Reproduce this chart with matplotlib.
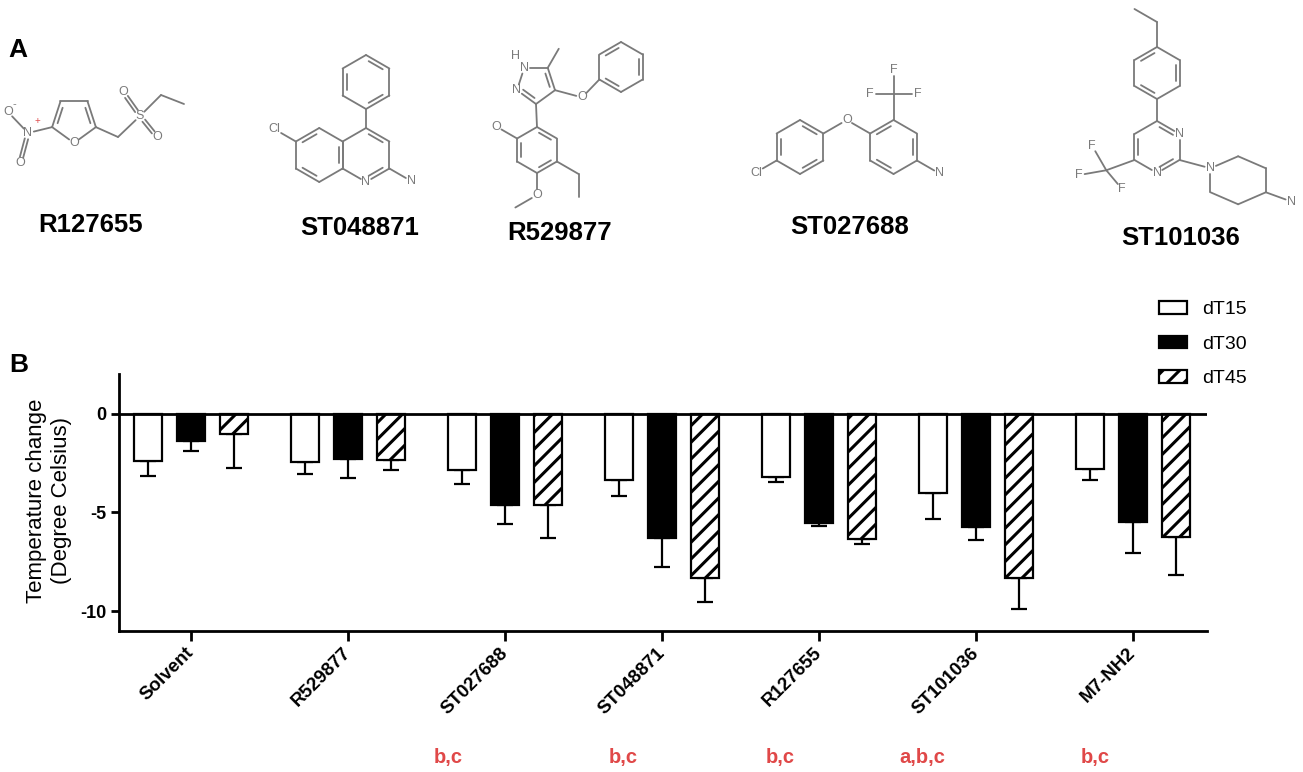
import numpy as np
import matplotlib
matplotlib.use('Agg')
import matplotlib.pyplot as plt
import matplotlib.transforms as mtransforms

plt.rcParams['font.family'] = ['Liberation Sans', 'DejaVu Sans']
plt.rcParams['hatch.linewidth'] = 2.2

# ---------------- data ----------------
categories = ['Solvent', 'R529877', 'ST027688', 'ST048871', 'R127655', 'ST101036', 'M7-NH2']
series_names = ['dT15', 'dT30', 'dT45']
dt15 = [-2.42, -2.44, -2.86, -3.37, -3.21, -4.03, -2.81]
dt15_err = [0.76, 0.64, 0.71, 0.78, 0.26, 1.30, 0.57]
dt30 = [-1.38, -2.30, -4.62, -6.29, -5.52, -5.75, -5.50]
dt30_err = [0.52, 0.96, 0.96, 1.46, 0.17, 0.65, 1.54]
dt45 = [-1.01, -2.33, -4.65, -8.34, -6.36, -8.34, -6.24]
dt45_err = [1.76, 0.53, 1.63, 1.19, 0.24, 1.56, 1.95]
yticks = [0, -5, -10]
sig_labels = ['', '', 'b,c', 'b,c', 'b,c', 'a,b,c', 'b,c']
sig_offsets = [0, 0, -0.36, -0.25, -0.25, -0.34, -0.24]
compound_names = ['R127655', 'ST048871', 'R529877', 'ST027688', 'ST101036']

W, H = 1303, 772
fig = plt.figure(figsize=(W / 100, H / 100), dpi=100)

# ---------------- panel A: structures (pixel space overlay) ----------------
sk = fig.add_axes([0, 0, 1, 1])
sk.set_xlim(0, W)
sk.set_ylim(H, 0)
sk.axis('off')

GRAY = '#7a7a7a'
LW = 1.3


def hexv(cx, cy, r, start=-90, n=6, sx=1.0, sy=1.0):
    a = np.deg2rad(start + 360.0 / n * np.arange(n))
    return [np.array([cx + sx * r * np.cos(t), cy + sy * r * np.sin(t)]) for t in a]


def ext(p, ang, L):
    t = np.deg2rad(ang)
    return np.array([p[0] + L * np.cos(t), p[1] + L * np.sin(t)])


def line(p, q, gp=0.0, gq=0.0):
    p = np.asarray(p, float)
    q = np.asarray(q, float)
    u = (q - p) / np.hypot(*(q - p))
    a = p + u * gp
    b = q - u * gq
    sk.plot([a[0], b[0]], [a[1], b[1]], color=GRAY, lw=LW, solid_capstyle='round')


def dbl(p, q, gp=0.0, gq=0.0, sep=3.4):
    p = np.asarray(p, float)
    q = np.asarray(q, float)
    u = (q - p) / np.hypot(*(q - p))
    nrm = np.array([-u[1], u[0]]) * sep / 2
    line(p + nrm, q + nrm, gp, gq)
    line(p - nrm, q - nrm, gp, gq)


def inner(p, q, c, off=4.0, trim=0.2):
    p = np.asarray(p, float)
    q = np.asarray(q, float)
    mid = (p + q) / 2
    v = c - mid
    v = v / np.hypot(*v)
    line(p + (q - p) * trim + v * off, q - (q - p) * trim + v * off)


def atom(p, s, size=9, color=GRAY):
    sk.text(p[0], p[1], s, ha='center', va='center', fontsize=size, color=color)


def ring(verts, doubles=(), labels=None, gap=6.0):
    labels = labels or {}
    c = np.mean(verts, axis=0)
    n = len(verts)
    for k in range(n):
        i, j = k, (k + 1) % n
        line(verts[i], verts[j], gap if i in labels else 0, gap if j in labels else 0)
        if k in doubles:
            inner(verts[i], verts[j], c)
    for i, s in labels.items():
        atom(verts[i], s)


# R127655
fur = hexv(74, 120, 23, start=90, n=5)
ring(fur, doubles=(1, 3), labels={0: 'O'})
Nn = np.array([28, 133])
line(fur[1], Nn, 0, 6)
atom(Nn, 'N')
atom((37, 121), '+', size=7, color='#e05050')
O1 = np.array([8, 112])
line(Nn, O1, 6, 6)
atom(O1, 'O')
atom((14, 104), '-', size=8)
O2 = np.array([20, 163])
dbl(Nn, O2, 6, 6)
atom(O2, 'O')
ch2 = np.array([118, 137])
line(fur[4], ch2)
S = np.array([140, 116])
line(ch2, S, 0, 6)
atom(S, 'S')
O3 = np.array([123, 92])
dbl(S, O3, 6, 6)
atom(O3, 'O')
O4 = np.array([157, 137])
dbl(S, O4, 6, 6)
atom(O4, 'O')
e1 = np.array([161, 95])
line(S, e1, 6, 0)
line(e1, (184, 104))

# ST048871
ph = hexv(366, 82, 27)
ring(ph, doubles=(0, 2, 4))
py = hexv(366, 155, 27)
bz = hexv(366 - 27 * np.sqrt(3), 155, 27)
line(ph[3], py[0])
ring(py, doubles=(0, 2), labels={3: 'N'})
ring(bz, doubles=(1, 3, 5))
Cl = ext(bz[5], 210, 25)
line(bz[5], Cl, 0, 8)
atom(Cl, 'Cl')
NH = ext(py[2], 30, 25)
line(py[2], NH, 0, 6)
atom(NH, 'N')

# R529877
pz = hexv(536, 84, 20, start=90, n=5)   # C3, N2, N1, C5, C4
ring(pz, doubles=(0, 3), labels={1: 'N', 2: 'N'})
atom(ext(pz[2], 235, 15), 'H')
line(pz[3], ext(pz[3], -60, 22))
Op = ext(pz[4], 15, 28)
line(pz[4], Op, 0, 6)
atom(Op, 'O')
ph3 = hexv(621, 67, 25, start=150)
line(Op, ph3[0], 6, 0)
ring(ph3, doubles=(1, 3, 5))
bz3 = hexv(537, 150, 23)
line(pz[0], bz3[0])
ring(bz3, doubles=(0, 2, 4))
Oh = ext(bz3[5], 210, 24)
line(bz3[5], Oh, 0, 6)
atom(Oh, 'O')
Om = ext(bz3[3], 90, 22)
line(bz3[3], Om, 0, 6)
atom(Om, 'O')
line(Om, ext(Om, 150, 25), 6, 0)
c1 = ext(bz3[2], 30, 25)
line(bz3[2], c1)
line(c1, ext(c1, 90, 23))

# ST027688
rA = hexv(800, 147, 27)
ring(rA, doubles=(0, 2, 4))
Cl2 = ext(rA[4], 150, 24)
line(rA[4], Cl2, 0, 8)
atom(Cl2, 'Cl')
Oe = ext(rA[1], -30, 27)
line(rA[1], Oe, 0, 6)
atom(Oe, 'O')
v5 = ext(Oe, 30, 27)
cB = ext(v5, 30, 27)
rB = hexv(cB[0], cB[1], 27)
line(Oe, rB[5], 6, 0)
ring(rB, doubles=(1, 3, 5))
cf = ext(rB[0], -90, 26)
line(rB[0], cf)
for ang in (-90, 180, 0):
    F = ext(cf, ang, 24)
    line(cf, F, 0, 6)
    atom(F, 'F')
N4 = ext(rB[2], 30, 26)
line(rB[2], N4, 0, 6)
atom(N4, 'N')

# ST101036
ph5 = hexv(1157, 73, 26)
ring(ph5, doubles=(1, 3, 5))
et1 = ext(ph5[0], -90, 25)
line(ph5[0], et1)
line(et1, ext(et1, 210, 26))
pm = hexv(1157, 147, 26)
line(ph5[3], pm[0])
ring(pm, doubles=(0, 2, 4), labels={1: 'N', 3: 'N'})
cf5 = ext(pm[4], 160, 30)
line(pm[4], cf5)
for ang, L in ((240, 28), (170, 28), (50, 24)):
    F = ext(cf5, ang, L)
    line(cf5, F, 0, 6)
    atom(F, 'F')
Np = ext(pm[2], 15, 32)
line(pm[2], Np, 0, 6)
ctr = np.array([Np[0] + 32 * np.cos(np.deg2rad(30)), Np[1] + 24 * 0.5])
pp = hexv(ctr[0], ctr[1], 1, sx=32, sy=24)
ring(pp, labels={5: 'N'})
Nt = ext(pp[2], 20, 27)
line(pp[2], Nt, 0, 6)
atom(Nt, 'N')

# compound names and panel letters
name_pos = [(91, 225), (360, 228), (560, 233), (850, 227), (1181, 238)]
for nm, (x, y) in zip(compound_names, name_pos):
    sk.text(x, y, nm, ha='center', va='center', fontsize=18.5, fontweight='bold')
sk.text(18, 50, 'A', ha='center', va='center', fontsize=19, fontweight='bold')
sk.text(19, 365, 'B', ha='center', va='center', fontsize=19, fontweight='bold')
sk.text(49, 501, 'Temperature change\n(Degree Celsius)', rotation=90, ha='center',
        va='center', multialignment='center', fontsize=16, linespacing=1.2)

# ---------------- panel B: bar chart ----------------
ax = fig.add_axes([119 / W, 1 - 631 / H, (1207 - 119) / W, (631 - 374) / H])
ax.patch.set_alpha(0)
x = np.arange(len(categories))
bw = 0.175
off = 0.274
series = [(dt15, dt15_err, 'white', ''), (dt30, dt30_err, 'black', ''), (dt45, dt45_err, 'white', '//')]
handles = []
for k, (vals, errs, fc, hatch) in enumerate(series):
    xs = x + (k - 1) * off
    b = ax.bar(xs, vals, width=bw, color=fc, edgecolor='black', linewidth=1.6,
               hatch=hatch, zorder=3, label=series_names[k])
    ax.errorbar(xs, vals, yerr=[errs, np.zeros(len(errs))], fmt='none', ecolor='black',
                elinewidth=1.6, capsize=5.5, capthick=1.6, zorder=2)
    handles.append(b)

ax.axhline(0, color='black', lw=2, zorder=4)
ax.set_xlim(-0.459, 6.471)
ax.set_ylim(-11, 2)
ax.set_yticks(yticks)
ax.set_yticklabels([str(t) for t in yticks], fontsize=13, fontweight='bold')
ax.set_xticks(x)
ax.set_xticklabels(categories, rotation=45, ha='right', va='center', rotation_mode='anchor',
                   fontsize=13.5, fontweight='bold')
for s in ('top', 'right'):
    ax.spines[s].set_visible(False)
for s in ('left', 'bottom'):
    ax.spines[s].set_linewidth(2)
ax.tick_params(axis='y', direction='out', length=6, width=2, pad=3)
ax.tick_params(axis='x', direction='out', length=7, width=2, pad=7)

ax.legend(handles, series_names, loc='upper left', bbox_to_anchor=(1159 / W, 1 - 301 / H),
          bbox_transform=fig.transFigure, frameon=False, handlelength=1.45, handleheight=0.62,
          handletextpad=0.75, labelspacing=0.9, borderpad=0, borderaxespad=0, fontsize=14)

trans = mtransforms.blended_transform_factory(ax.transData, fig.transFigure)
for i, (lab, o) in enumerate(zip(sig_labels, sig_offsets)):
    if lab:
        ax.text(i + o, 1 - 757 / H, lab, transform=trans, ha='center', va='center',
                fontsize=14.5, fontweight='bold', color='#e04848', clip_on=False)

fig.savefig('out.png', dpi=100)
